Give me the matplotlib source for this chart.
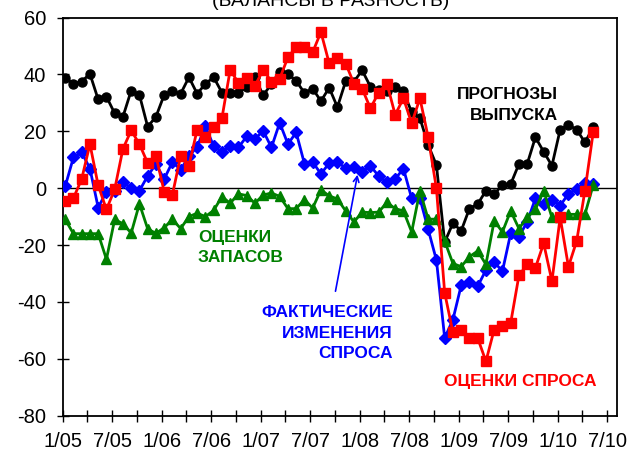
import numpy as np
import matplotlib
matplotlib.use("Agg")
import matplotlib.pyplot as plt

plt.rcParams['font.family'] = ['Liberation Sans', 'DejaVu Sans']
plt.rcParams['axes.unicode_minus'] = False

# Балансы ответов, помесячно с 1/05 по 5/10
prognoz = [38.8, 36.7, 37.5, 40.2, 31.2, 32.2, 26.3, 25.1, 34.3, 32.8, 21.6, 25.1,
           32.8, 34.0, 33.2, 39.0, 33.2, 36.7, 39.0, 33.6, 33.4, 33.6, 35.5, 39.0,
           32.6, 36.7, 41.0, 40.2, 37.7, 33.5, 35.0, 30.6, 35.3, 28.5, 37.6, 37.5,
           41.4, 35.7, 34.6, 34.3, 35.5, 34.0, 26.7, 24.6, 15.2, 8.1, -19.0, -12.3,
           -15.0, -7.2, -5.6, -0.9, -2.1, 1.1, 1.4, 8.5, 8.5, 17.9, 12.8, 7.9,
           20.6, 22.2, 20.6, 16.1, 21.4]

spros = [-4.5, -3.5, 3.2, 15.5, 1.0, -7.5, -0.4, 13.8, 20.3, 15.5, 8.8, 11.4,
         -1.2, -2.3, 11.4, 7.9, 20.6, 18.0, 21.4, 24.6, 41.6, 37.0, 38.6, 36.0,
         41.6, 37.5, 38.5, 46.0, 49.6, 49.6, 47.8, 54.9, 43.9, 45.7, 43.8, 36.8,
         34.9, 28.1, 33.6, 36.8, 25.8, 31.6, 22.8, 31.6, 17.9, -0.1, -36.8, -50.7,
         -49.7, -52.7, -52.7, -60.9, -49.7, -48.6, -47.4, -30.7, -26.8, -28.0, -19.4, -32.7,
         -10.3, -27.6, -18.6, -0.9, 19.6]

fakt = [0.6, 10.8, 12.6, 6.9, -6.8, -1.3, -0.9, 2.2, -0.1, -0.9, 4.3, 8.5,
        3.2, 9.2, 6.5, 11.2, 14.6, 21.7, 14.8, 12.7, 15.0, 14.3, 18.2, 17.3,
        20.2, 14.3, 23.0, 15.5, 19.6, 8.6, 9.2, 5.0, 8.8, 9.2, 7.0, 7.6,
        5.6, 7.9, 4.2, 2.1, 3.2, 6.9, -3.6, -3.6, -14.5, -25.3, -52.7, -46.2,
        -34.2, -33.0, -34.5, -28.8, -26.0, -29.2, -15.9, -17.0, -11.9, -3.6, -5.6, -4.1,
        -6.2, -1.9, -0.4, 1.8, 1.4]

zapasy = [-11.0, -16.0, -16.0, -16.0, -16.0, -25.0, -11.0, -12.5, -15.8, -5.5, -14.3, -15.9,
          -13.9, -11.0, -14.2, -10.0, -8.8, -10.0, -7.8, -3.0, -5.3, -2.0, -2.6, -5.3,
          -2.4, -1.7, -2.9, -7.2, -7.2, -4.0, -7.0, -0.6, -2.7, -3.8, -8.0, -11.9,
          -8.4, -8.6, -8.4, -5.0, -7.2, -8.0, -15.4, -0.9, -10.9, -10.9, -18.6, -26.5,
          -27.6, -24.1, -22.1, -26.8, -11.5, -15.4, -8.0, -14.2, -10.3, -7.4, -0.9, -10.3,
          -10.3, -9.2, -9.2, -9.2, 1.1]

tick_labels = ["1/05", "7/05", "1/06", "7/06", "1/07", "7/07",
               "1/08", "7/08", "1/09", "7/09", "1/10", "7/10"]

x = np.arange(len(prognoz)) + 0.3

fig = plt.figure(figsize=(6.34, 4.55), dpi=100)
ax = fig.add_axes([0.0989, 0.0864, 0.8738, 0.8751])

ax.axhline(0, color="black", lw=1.0, zorder=1)

series = [prognoz, fakt, zapasy, spros]
colors = ["black", "#0000FF", "#008000", "#FF0000"]
markers = ["o", "D", "^", "s"]
msizes = [6.5, 6.0, 7.0, 6.5]

for y, c, m, ms in zip(series, colors, markers, msizes):
    ax.plot(x, y, color=c, lw=2.0, marker=m, ms=ms, mec=c, mfc=c, zorder=3)

ax.set_xlim(0, 67.15)
ax.set_ylim(-80, 60)
ax.set_yticks(np.arange(-80, 61, 20))
ax.set_xticks(np.arange(0, 67, 3))
ax.set_xticklabels([tick_labels[i // 2] if i % 2 == 0 else "" for i in range(23)])

ax.tick_params(axis="both", direction="inout", length=8, width=1.0,
               labelsize=14.5, colors="black")
ax.tick_params(axis="x", pad=7.5)
ax.tick_params(axis="y", pad=8)
for s in ax.spines.values():
    s.set_linewidth(1.3)

# подписи рядов
ax.text(60.0, 29.2, "ПРОГНОЗЫ\nВЫПУСКА", color="black", fontsize=12.5,
        fontweight="bold", ha="right", va="center", multialignment="right",
        linespacing=1.45)
ax.text(16.4, -20.8, "ОЦЕНКИ\nЗАПАСОВ", color="#008000", fontsize=12.5,
        fontweight="bold", ha="left", va="center", multialignment="left",
        linespacing=1.45)
ax.text(40.0, -51.0, "ФАКТИЧЕСКИЕ\nИЗМЕНЕНИЯ\nСПРОСА", color="#0000FF", fontsize=12.5,
        fontweight="bold", ha="right", va="center", multialignment="right",
        linespacing=1.45)
ax.text(55.4, -68.0, "ОЦЕНКИ СПРОСА", color="#FF0000", fontsize=12.5,
        fontweight="bold", ha="center", va="center")

ax.annotate("", xy=(35.8, 5.7), xytext=(33.0, -37.2),
            arrowprops=dict(arrowstyle="->", color="#0000FF", lw=1.2))

fig.text(0.522, 1 - 6.5 / 455, "(БАЛАНСЫ В РАЗНОСТЬ)", fontsize=14,
         ha="center", va="baseline")

fig.savefig("out.png", dpi=100)
